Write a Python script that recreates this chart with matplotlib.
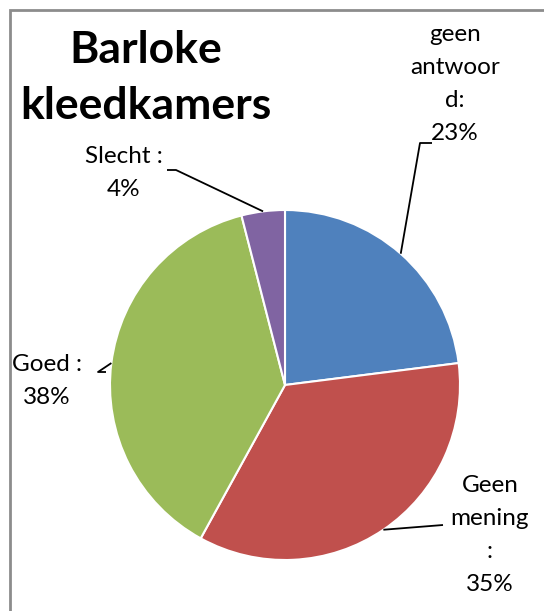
import numpy as np
import matplotlib
matplotlib.use("Agg")
import matplotlib.pyplot as plt
from matplotlib.patches import Rectangle

# Survey results for the changing rooms
categories = ["geen antwoord", "Geen mening", "Goed", "Slecht"]
shares = [23, 35, 38, 4]
colors = ["#4F81BD", "#C0504D", "#9BBB59", "#8064A2"]
label_texts = ["geen\nantwoor\nd:\n23%", "Geen\nmening\n:\n35%", "Goed :\n38%", "Slecht :\n4%"]
title = "Barloke\nkleedkamers"

W, H = 544, 611
fig = plt.figure(figsize=(W / 100, H / 100), dpi=100)
ax = fig.add_axes([0, 0, 1, 1])

FONT = ["Lato", "DejaVu Sans"]

def py(y):
    # convert a top-down pixel row into axis units
    return H - y

center = (285, py(385))
radius = 175
wedges, _ = ax.pie(shares, colors=colors, startangle=90, counterclock=False,
                   center=center, radius=radius, frame=True,
                   wedgeprops=dict(edgecolor="white", linewidth=1.5))
ax.set_xlim(0, W)
ax.set_ylim(0, H)
ax.set_aspect("equal")
ax.axis("off")

# chart-area frame (left and top edges visible)
ax.add_patch(Rectangle((10, py(700)), 700, 690, fill=False,
                       edgecolor="#8C8C8C", linewidth=2, zorder=0))

ax.text(146, py(78), title, ha="center", va="center", fontsize=32,
        fontweight="bold", family=FONT, linespacing=1.48)

# label anchors (pixel positions) and leader elbows
label_pos = [(455, 84), (490, 535), (47, 381), (124, 173)]
leader_ends = [[(420, 143), (432, 143)],
               [(443, 525)],
               [(98, 372), (106, 372)],
               [(176, 170), (167, 170)]]

cum = np.cumsum([0] + shares[:-1])
for i, (val, start) in enumerate(zip(shares, cum)):
    mid = (start + val / 2) / sum(shares) * 360.0
    ang = np.deg2rad(90 - mid)
    ex = center[0] + radius * np.cos(ang)
    ey = center[1] + radius * np.sin(ang)
    xs = [ex] + [p[0] for p in leader_ends[i]]
    ys = [ey] + [py(p[1]) for p in leader_ends[i]]
    ax.plot(xs, ys, color="black", linewidth=1.3, solid_capstyle="butt")
    lx, ly = label_pos[i]
    ax.text(lx, py(ly), label_texts[i], ha="center", va="center",
            fontsize=17.5, family=FONT, linespacing=1.72)

fig.savefig("out.png", dpi=100, facecolor="white")
